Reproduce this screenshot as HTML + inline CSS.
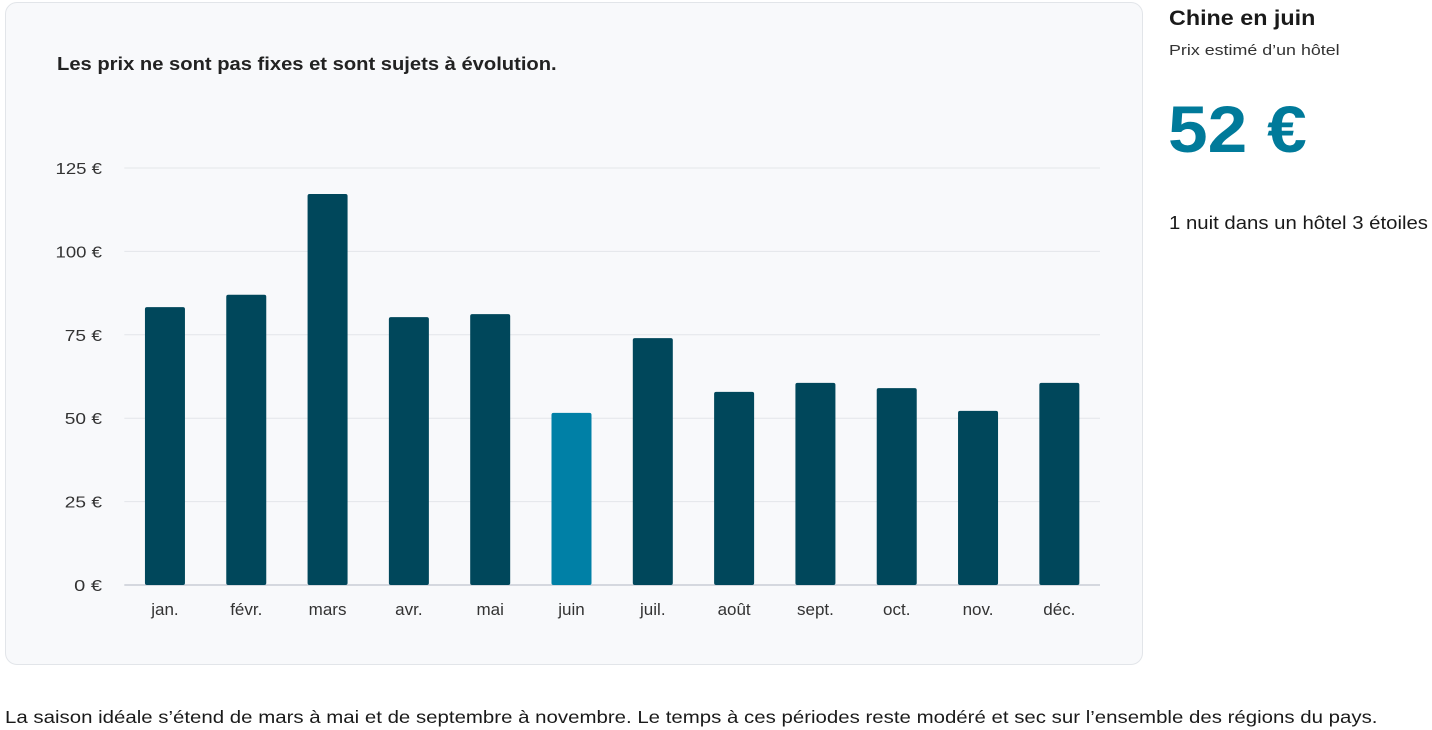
<!DOCTYPE html>
<html><head><meta charset="utf-8"><style>
body{margin:0;width:1432px;height:730px;background:#fff;font-family:"Liberation Sans",sans-serif;position:relative;overflow:hidden;color:#1a1a1a}
#card{position:absolute;left:5px;top:2px;width:1136px;height:661px;background:#f8f9fb;border:1px solid #e2e5e9;border-radius:12px}
.t{position:absolute;white-space:nowrap;transform-origin:0 0}
</style></head><body>
<div id="card"></div>
<div class="t" style="left:57px;top:54px;font-size:18px;font-weight:bold;color:#222;transform:scaleX(1.12)">Les prix ne sont pas fixes et sont sujets à évolution.</div>
<svg id="chart" width="1432" height="730" style="position:absolute;left:0;top:0"></svg>
<div class="t" style="left:1169px;top:7px;font-size:21px;font-weight:bold;transform:scaleX(1.11)">Chine en juin</div>
<div class="t" style="left:1169px;top:42px;font-size:15px;color:#333;transform:scaleX(1.19)">Prix estimé d’un hôtel</div>
<div class="t" style="left:1168px;top:91px;font-size:66px;font-weight:bold;color:#007a9a;transform:scaleX(1.08)">52 €</div>
<div class="t" style="left:1169px;top:213px;font-size:18px;transform:scaleX(1.13)">1 nuit dans un hôtel 3 étoiles</div>
<div class="t" style="left:5px;top:707px;font-size:17.5px;transform:scaleX(1.167)">La saison idéale s’étend de mars à mai et de septembre à novembre. Le temps à ces périodes reste modéré et sec sur l’ensemble des régions du pays.</div>
<script>
const months=["jan.","févr.","mars","avr.","mai","juin","juil.","août","sept.","oct.","nov.","déc."];
const prices=[83.3,87,117.2,80.3,81.2,51.6,74,57.9,60.6,59,52.2,60.6];
const ticks=[0,25,50,75,100,125];
const highlight="juin";
const svg=document.getElementById('chart');const NS="http://www.w3.org/2000/svg";
const x0=124.3,x1=1100,y0=585,yTop=168,maxV=125;
const band=(x1-x0)/months.length;
const y=v=>y0-(v/maxV)*(y0-yTop);
const xc=i=>x0+band*(i+0.5);
function mk(t,a){const e=document.createElementNS(NS,t);for(const k in a)e.setAttribute(k,a[k]);svg.appendChild(e);return e;}
ticks.forEach(v=>{
 const l=mk('line',{x1:x0,x2:x1,y1:y(v),y2:y(v),stroke:v===0?'#c9cdd6':'#e3e6ea','stroke-width':v===0?1.5:1});
 
 
 const t=mk('text',{x:102,y:y(v)+6,'text-anchor':'end','font-size':16,fill:'#333','font-family':'Liberation Sans',textLength:(String(v).length+2)*9.3,lengthAdjust:'spacingAndGlyphs'});
 t.textContent=v+' €';
 
 
});
months.forEach((m,i)=>{
 const r=mk('rect',{x:xc(i)-20,y:y(prices[i]),width:40,height:y0-y(prices[i]),rx:2,fill:m===highlight?'#0080a6':'#00475b'});
 
 
 const t=mk('text',{x:xc(i),y:615,'text-anchor':'middle','font-size':17,fill:'#333','font-family':'Liberation Sans'});
 t.textContent=m;
 
 
});
</script>
</body></html>
